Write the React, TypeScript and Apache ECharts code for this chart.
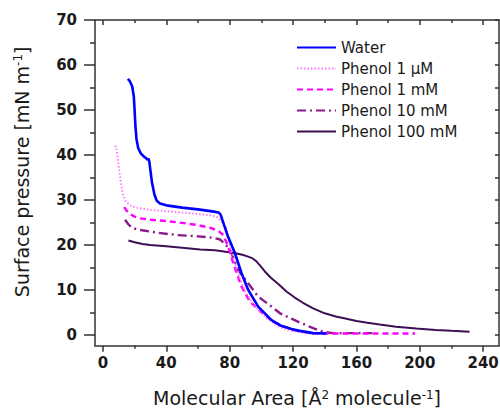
import React, { useEffect, useRef } from "react";
import * as echarts from "echarts";

const xMajorTicks = [0, 40, 80, 120, 160, 200, 240];
const xMinorTicks = [20, 60, 100, 140, 180, 220];
const yMajorTicks = [0, 10, 20, 30, 40, 50, 60, 70];
const yMinorTicks = [5, 15, 25, 35, 45, 55, 65];
const yRightTicks = [0, 5, 10, 15, 20, 25, 30, 35, 40, 45, 50, 55, 60, 65, 70];

const seriesNames = ["Water", "Phenol 1 \u03bcM", "Phenol 1 mM", "Phenol 10 mM", "Phenol 100 mM"];

const water = [
  [15.7, 56.9], [17, 56.4], [18.5, 55.2], [19.5, 53], [20, 50], [20.5, 46.5], [21.2, 43.5],
  [22.3, 41.5], [24, 40.3], [26, 39.6], [27.5, 39.2], [28, 38.9], [28.6, 39.2], [29.2, 38.7],
  [30, 36.5], [31, 33.8], [32.5, 31.2], [34, 29.8], [36, 29.2], [40, 28.8], [50, 28.3],
  [60, 27.9], [70, 27.4], [73, 27.2], [74.2, 26.8], [79, 21.8], [83.3, 18.2], [87.5, 13.7],
  [91.7, 10], [98, 6.3], [106.4, 3.3], [112, 2.1], [119, 1.3], [124.3, 0.9], [132.7, 0.4], [141, 0.3],
];

const phenol1uM = [
  [7.7, 42.1], [8.5, 41.5], [9.2, 39.6], [10.3, 36.5], [11.5, 33.5], [12.8, 31], [14.5, 29.6],
  [17, 28.8], [21, 28.3], [30, 27.8], [40, 27.5], [50, 27.2], [60, 26.9], [68, 26.6], [72, 26.2],
  [75, 25.2], [78, 23.5], [80.5, 19], [83, 16.5], [86, 13], [90, 9.5], [95, 6.8], [100, 4.8],
  [106, 3], [112, 1.7], [118, 1.0], [124, 0.6], [130, 0.3], [140, 0.2],
];

const phenol1mM = [
  [13.4, 28.4], [15, 27.6], [17, 26.9], [20, 26.3], [23.5, 25.9], [30, 25.6], [40, 25.3],
  [50, 24.9], [60, 24.4], [68, 23.8], [73.2, 23], [76, 22.2], [79.1, 19.6], [82.3, 15.9],
  [87.5, 10.7], [92.8, 7.4], [102, 4.4], [108, 2.8], [114.8, 1.8], [120, 1.1], [126, 0.7],
  [132, 0.4], [140, 0.3], [160, 0.3], [180, 0.3], [197, 0.3],
];

const phenol10mM = [
  [14, 25.6], [16, 24.6], [18, 23.9], [21, 23.5], [25.6, 23.2], [35, 22.7], [46.6, 22.2],
  [60, 21.9], [69.7, 21.6], [74, 21.2], [76.5, 20.4], [80.2, 18.9], [85.4, 14.4], [91.7, 11.5],
  [98, 8.5], [106.4, 6.3], [111.8, 4.8], [119, 3.6], [124, 2.8], [132.7, 1.5], [139, 0.7],
  [145, 0.4], [160, 0.4], [170, 0.4],
];

const phenol100mM = [
  [16.1, 21], [20, 20.6], [25, 20.2], [29.8, 20], [40, 19.7], [50, 19.4], [61.3, 19],
  [70.8, 18.8], [82.9, 18.2], [88, 17.8], [91.7, 17.4], [94.5, 17], [97, 16.3], [99.5, 15.3],
  [102.2, 14.1], [106, 12.7], [110.7, 11.3], [116, 9.6], [121.1, 8.3], [126, 7.2], [132.7, 5.9],
  [140, 4.8], [147, 4.1], [153.7, 3.6], [160, 3.1], [167, 2.7], [174.7, 2.3], [185, 1.8],
  [197.8, 1.4], [210, 1.1], [220, 0.9], [231.4, 0.7],
];

const seriesData = [water, phenol1uM, phenol1mM, phenol10mM, phenol100mM];
const seriesColors = ["#0000FF", "#FF77FF", "#FF00FF", "#8B1A89", "#3F0F55"];
const seriesWidths = [2.6, 2, 2.4, 2.4, 2];
const seriesDash: any[] = ["solid", [1.5, 2], [6, 4], [9, 4, 2, 4], "solid"];

const FONT = "DejaVu Sans";
const AXIS_COLOR = "#333333";
const TEXT_COLOR = "#1a1a1a";
const X_MIN = -5;
const X_MAX = 250;
const Y_MIN = -2.4;
const Y_MAX = 70;

function tickAxis(extra: any) {
  return {
    type: "value",
    splitLine: { show: false },
    axisPointer: { show: false },
    ...extra,
  };
}

export default function App() {
  const ref = useRef<HTMLDivElement>(null);

  useEffect(() => {
    if (!ref.current) return;
    const chart = echarts.init(ref.current, undefined, { renderer: "svg" });
    const lineStyleAxis = { color: AXIS_COLOR, width: 1.5 };
    const tickLabel = {
      fontFamily: FONT,
      fontSize: 15,
      fontWeight: "bold",
      color: TEXT_COLOR,
    };
    const titleRich = {
      sup: { fontFamily: FONT, fontSize: 12, color: TEXT_COLOR, verticalAlign: "top", lineHeight: 12 },
    };

    const option: any = {
      animation: false,
      backgroundColor: "#ffffff",
      grid: {
        left: 95,
        right: 1,
        top: 20,
        bottom: 63.3,
        containLabel: false,
        outerBoundsMode: "none",
      },
      legend: {
        orient: "vertical",
        left: 291,
        top: 35,
        itemWidth: 39,
        itemHeight: 14,
        itemGap: 6,
        data: seriesNames,
        itemStyle: { opacity: 0, borderWidth: 0 },
        textStyle: { fontFamily: FONT, fontSize: 15, color: TEXT_COLOR, lineHeight: 15 },
      },
      xAxis: [
        tickAxis({
          position: "bottom",
          min: X_MIN,
          max: X_MAX,
          axisLine: { show: true, onZero: false, lineStyle: lineStyleAxis },
          axisTick: { show: true, inside: false, length: 6, customValues: xMajorTicks, lineStyle: lineStyleAxis },
          axisLabel: { show: true, customValues: xMajorTicks, margin: 10, ...tickLabel },
          name: "Molecular Area [\u00c5{sup|2} molecule{sup|-1}]",
          nameLocation: "middle",
          nameGap: 43,
          nameTextStyle: { fontFamily: FONT, fontSize: 19, color: TEXT_COLOR, rich: titleRich },
        }),
        tickAxis({
          position: "bottom",
          min: X_MIN,
          max: X_MAX,
          axisLine: { show: false, onZero: false },
          axisTick: { show: true, inside: false, length: 3, customValues: xMinorTicks, lineStyle: lineStyleAxis },
          axisLabel: { show: false },
        }),
        tickAxis({
          position: "top",
          min: X_MIN,
          max: X_MAX,
          axisLine: { show: true, onZero: false, lineStyle: lineStyleAxis },
          axisTick: { show: true, inside: true, length: 5, customValues: xMajorTicks, lineStyle: lineStyleAxis },
          axisLabel: { show: false },
        }),
        tickAxis({
          position: "top",
          min: X_MIN,
          max: X_MAX,
          axisLine: { show: false, onZero: false },
          axisTick: { show: true, inside: true, length: 3, customValues: xMinorTicks, lineStyle: lineStyleAxis },
          axisLabel: { show: false },
        }),
      ],
      yAxis: [
        tickAxis({
          position: "left",
          min: Y_MIN,
          max: Y_MAX,
          axisLine: { show: true, onZero: false, lineStyle: lineStyleAxis },
          axisTick: { show: true, inside: false, length: 11, customValues: yMajorTicks, lineStyle: lineStyleAxis },
          axisLabel: { show: true, customValues: yMajorTicks, margin: 18, ...tickLabel },
          name: "Surface pressure [mN m{sup|-1}]",
          nameLocation: "middle",
          nameGap: 64,
          nameTextStyle: {
            fontFamily: FONT,
            fontSize: 19,
            color: TEXT_COLOR,
            rich: titleRich,
            padding: [0, 0, 0, 22],
          },
        }),
        tickAxis({
          position: "left",
          min: Y_MIN,
          max: Y_MAX,
          axisLine: { show: false, onZero: false },
          axisTick: { show: true, inside: false, length: 5, customValues: yMinorTicks, lineStyle: lineStyleAxis },
          axisLabel: { show: false },
        }),
        tickAxis({
          position: "right",
          min: Y_MIN,
          max: Y_MAX,
          axisLine: { show: true, onZero: false, lineStyle: lineStyleAxis },
          axisTick: { show: true, inside: true, length: 4, customValues: yRightTicks, lineStyle: lineStyleAxis },
          axisLabel: { show: false },
        }),
      ],
      series: seriesNames.map((name, i) => ({
        name,
        type: "line",
        xAxisIndex: 0,
        yAxisIndex: 0,
        data: seriesData[i],
        symbol: "none",
        showSymbol: false,
        smooth: false,
        z: 10 - i,
        lineStyle: {
          color: seriesColors[i],
          width: seriesWidths[i],
          type: seriesDash[i],
          cap: "butt",
        },
        itemStyle: { color: seriesColors[i] },
      })),
    };

    chart.setOption(option);
    return () => {
      chart.dispose();
    };
  }, []);

  return (
    <div
      ref={ref}
      style={{ position: "fixed", left: 0, top: 0, width: 500, height: 409, background: "#fff" }}
    />
  );
}
